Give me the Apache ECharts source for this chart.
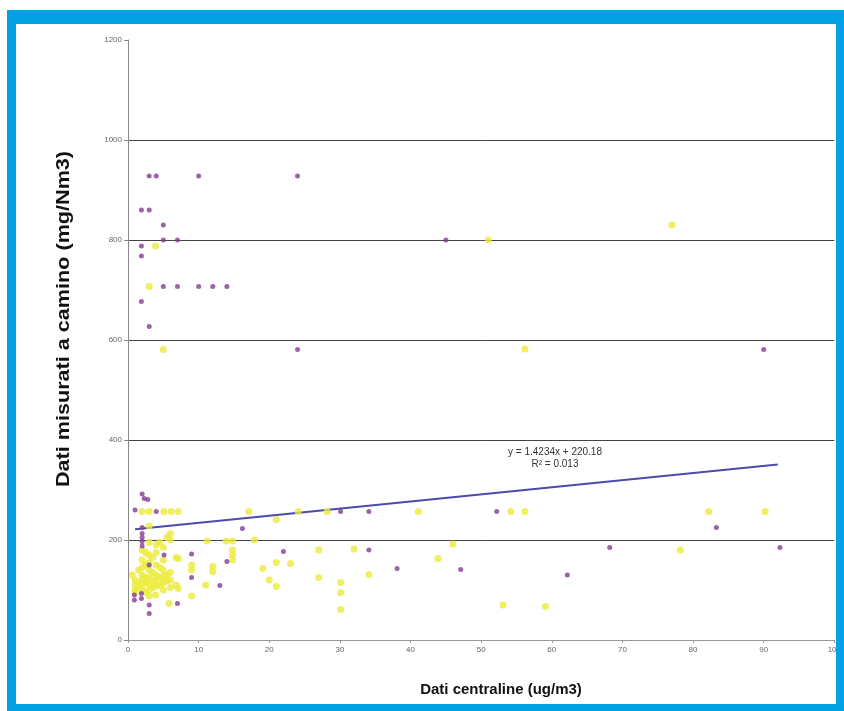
<!DOCTYPE html>
<html><head><meta charset="utf-8">
<script src="https://cdn.jsdelivr.net/npm/echarts@6/dist/echarts.min.js"></script>
<style>html,body{margin:0;padding:0;background:#fff}#c{width:844px;height:711px}</style>
</head><body><div id="c"></div><script>
// Axis settings
const xAxisMin = 0, xAxisMax = 100, xAxisStep = 10;
const yAxisMin = 0, yAxisMax = 1200, yAxisStep = 200;

// Purple series [x, y]
const purplePoints = [
  [3,928],[4,928],[10,928],[24,928],
  [1.9,860],[3,860],[5,830],[5,800],[7,800],[1.9,788],[1.9,768],
  [5,707],[7,707],[10,707],[12,707],[14,707],[1.9,677],[3,627],[24,581],
  [45,800],[90,581],
  [2,292],[2.3,283],[2.8,281],[1,260],[4,257],
  [2,225],[2,213],[2,205],[2,197],[2,188],[5.1,170],[3,150],
  [0.9,90],[0.9,80],[1.9,93],[1.9,83],[3,70],[3,53],[7,73],
  [9,172],[9,125],[13,109],[14,157],[16.2,223],
  [22,177],[30.1,257],[34.1,257],[34.1,180],[38.1,143],[47.1,141],[52.2,257],
  [62.2,130],[68.2,185],[83.3,225],[92.3,185]
];

// Yellow series [x, y]
const yellowPoints = [
  [3,707],[3.9,788],[5,581],[51,800],[77,830],[56.2,582],
  [2,257],[3,257],[5.1,257],[6.1,257],[7.1,257],[17.1,257],
  [3,228],[6,213],[4.5,195],[5.5,205],[6,200],[6.8,165],
  [1,120],[1,110],[1,100],[1,95],[0.6,130],
  [1.5,140],[1.5,115],[1.5,105],
  [2,180],[2,160],[2,145],[2,130],[2,120],[2,110],[2,100],
  [2.5,175],[2.5,150],[2.5,125],[2.5,115],[2.5,95],
  [3,195],[3,170],[3,155],[3,140],[3,125],[3,112],[3,100],[3,88],
  [3.5,165],[3.5,135],[3.5,118],[3.5,105],
  [4,190],[4,175],[4,150],[4,130],[4,120],[4,108],[3.9,90],
  [4.5,145],[4.5,125],[4.5,110],
  [5,185],[5,160],[5,140],[5,128],[5,115],[5,100],
  [5.5,130],[5.5,118],[6,135],[6,120],[6,105],[5.8,73],[6.8,110],[7.1,163],[7.1,103],
  [9,150],[9,140],[9,88],[11,110],[11.2,198],[12,147],[12,137],
  [13.9,198],[14.8,198],[14.8,180],[14.8,170],[14.8,160],[17.9,200],
  [19.1,143],[20,120],[21,107],[21,155],[21,241],[23,153],[24.1,257],
  [27,180],[27,125],[28.2,257],[30.1,115],[30.1,95],[30.1,61],[32,182],[34.1,131],
  [41.1,257],[43.9,163],[46,192],[53.1,70],[54.2,257],[56.2,257],[59.1,67],
  [78.2,180],[82.2,257],[90.2,257]
];

// Linear trend (from the chart's equation)
const trendSlope = 1.4234;
const trendIntercept = 220.18;
const trendXRange = [1, 92];
const trendLabel = ['y = 1.4234x + 220.18', 'R\u00B2 = 0.013'];

const xTitle = 'Dati centraline (ug/m3)';
const yTitle = 'Dati misurati a camino (mg/Nm3)';

const trendData = trendXRange.map(x => [x, trendSlope * x + trendIntercept]);

const chart = echarts.init(document.getElementById('c'), null, {renderer: 'canvas'});
const FONT = 'Liberation Sans, Arial, sans-serif';
const BLUE = '#00A0E3';
chart.setOption({
  animation: false,
  backgroundColor: '#fff',
  grid: {left: 128, right: 6, top: 40, bottom: 71},
  xAxis: {
    type: 'value', min: xAxisMin, max: xAxisMax, interval: xAxisStep,
    axisLine: {show: true, lineStyle: {color: '#999', width: 1}},
    axisTick: {show: true, length: 3, lineStyle: {color: '#999'}},
    axisLabel: {color: '#666', fontSize: 8, fontFamily: FONT, margin: 6},
    splitLine: {show: false}
  },
  yAxis: {
    type: 'value', min: yAxisMin, max: yAxisMax, interval: yAxisStep,
    axisLine: {show: true, lineStyle: {color: '#888', width: 1}},
    axisTick: {show: true, length: 4, lineStyle: {color: '#888'}},
    axisLabel: {color: '#666', fontSize: 8, fontFamily: FONT, margin: 6, formatter: v => String(v)},
    splitLine: {show: true, lineStyle: {color: '#444', width: 1}, showMaxLine: false}
  },
  series: [
    {type: 'line', data: trendData, symbol: 'none', lineStyle: {color: '#4B4BAE', width: 2}, z: 1},
    {type: 'scatter', data: yellowPoints, symbolSize: 7, itemStyle: {color: '#EBEB3A'}, z: 2},
    {type: 'scatter', data: purplePoints, symbolSize: 5, itemStyle: {color: '#833C95'}, z: 3}
  ],
  graphic: [
    {type: 'text', x: 501, y: 690, style: {text: xTitle, font: 'bold 15px ' + FONT, fill: '#111', align: 'center', verticalAlign: 'middle'}, z: 10},
    {type: 'text', x: 64, y: 319, rotation: Math.PI / 2, scaleX: 1.2,
      style: {text: yTitle, font: 'bold 18px ' + FONT, fill: '#111', align: 'center', verticalAlign: 'middle'}, z: 10},
    {type: 'text', x: 555, y: 452, style: {text: trendLabel[0], font: '10px ' + FONT, fill: '#333', align: 'center', verticalAlign: 'middle'}, z: 10},
    {type: 'text', x: 555, y: 464, style: {text: trendLabel[1], font: '10px ' + FONT, fill: '#333', align: 'center', verticalAlign: 'middle'}, z: 10},
    {type: 'rect', shape: {x: 7, y: 10, width: 837, height: 14}, style: {fill: BLUE}, z: 100},
    {type: 'rect', shape: {x: 7, y: 10, width: 9, height: 701}, style: {fill: BLUE}, z: 100},
    {type: 'rect', shape: {x: 836, y: 10, width: 8, height: 701}, style: {fill: BLUE}, z: 100},
    {type: 'rect', shape: {x: 7, y: 704, width: 837, height: 7}, style: {fill: BLUE}, z: 100}
  ]
});
</script></body></html>
